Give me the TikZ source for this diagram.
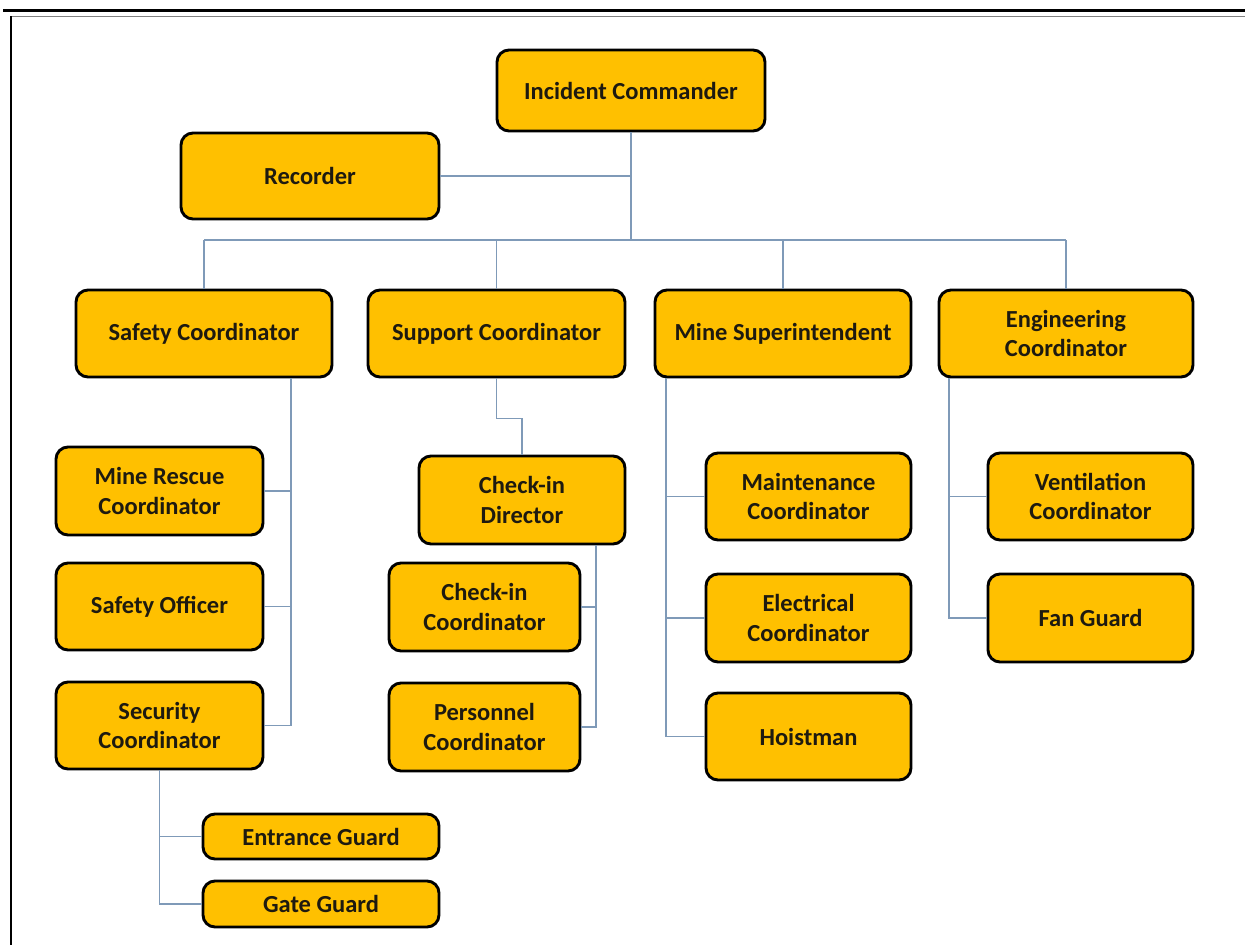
\documentclass[tikz,border=0pt]{standalone}
\usepackage{fontspec}
\setmainfont{Carlito}
\definecolor{orgfill}{HTML}{FFC000}
\definecolor{txtcol}{HTML}{1E1A10}
\definecolor{conncol}{HTML}{7F9AB8}
\begin{document}
\begin{tikzpicture}[x=1pt,y=-1pt,
  box/.style={draw=black, line width=2.9pt, fill=orgfill, rounded corners=12pt,
    font=\bfseries\fontsize{24.5}{29.5}\selectfont, text=txtcol, align=center, inner sep=0pt},
  conn/.style={draw=conncol, line width=1.4pt}]
\useasboundingbox (0,0) rectangle (1245,945);
% frame
\draw[line width=3pt] (3,10.8) -- (1245,10.8);
\draw[gray, line width=1.2pt] (10,16.5) -- (1245,16.5);
\draw[line width=1.6pt] (11,16) -- (11,945);
% helper coordinates
\coordinate (busL) at (205,240);
\coordinate (sx) at (291,0);
\coordinate (cx) at (596,0);
\coordinate (mx) at (666,0);
\coordinate (ex) at (949,0);
% nodes
\node[box, minimum width=268pt, minimum height=81pt] (ic) at (631,90.5) {Incident Commander};
\node[box, minimum width=258pt, minimum height=86pt] (rec) at (310,176) {Recorder};
\node[box, minimum width=256pt, minimum height=87pt] (saf) at (204,333.5) {Safety Coordinator};
\node[box, minimum width=257pt, minimum height=87pt] (sup) at (496.5,333.5) {Support Coordinator};
\node[box, minimum width=256pt, minimum height=87pt] (mine) at (783,333.5) {Mine Superintendent};
\node[box, minimum width=254pt, minimum height=87pt] (eng) at (1066,333.5) {Engineering\\Coordinator};
\node[box, minimum width=207pt, minimum height=88pt] (mrc) at (159.5,491) {Mine Rescue\\Coordinator};
\node[box, minimum width=207pt, minimum height=87pt] (so) at (159.5,606.5) {Safety Officer};
\node[box, minimum width=207pt, minimum height=87pt] (sec) at (159.5,725.5) {Security\\Coordinator};
\node[box, minimum width=236pt, minimum height=45pt] (ent) at (321,836.5) {Entrance Guard};
\node[box, minimum width=236pt, minimum height=46pt] (gate) at (321,904) {Gate Guard};
\node[box, minimum width=206pt, minimum height=88pt] (cid) at (522,500) {Check-in\\Director};
\node[box, minimum width=191pt, minimum height=88pt] (cic) at (484.5,607) {Check-in\\Coordinator};
\node[box, minimum width=191pt, minimum height=88pt] (pc) at (484.5,727) {Personnel\\Coordinator};
\node[box, minimum width=205pt, minimum height=87pt] (mc) at (808.5,496.5) {Maintenance\\Coordinator};
\node[box, minimum width=205pt, minimum height=88pt] (ec) at (808.5,618) {Electrical\\Coordinator};
\node[box, minimum width=205pt, minimum height=87pt] (hm) at (808.5,736.5) {Hoistman};
\node[box, minimum width=205pt, minimum height=87pt] (vc) at (1090.5,496.5) {Ventilation\\Coordinator};
\node[box, minimum width=205pt, minimum height=88pt] (fg) at (1090.5,618) {Fan Guard};
% connectors
\draw[conn] (ic.south) -- (ic.south |- busL);
\draw[conn] (saf.north |- busL) -- (eng.north |- busL);
\draw[conn] (rec.east) -- (rec.east -| ic.south);
\draw[conn] (saf.north) -- (saf.north |- busL);
\draw[conn] (sup.north) -- (sup.north |- busL);
\draw[conn] (mine.north) -- (mine.north |- busL);
\draw[conn] (eng.north) -- (eng.north |- busL);
% safety
\draw[conn] (saf.south -| sx) -- (sx |- sec.east) -- (sec.east);
\draw[conn] (mrc.east) -- (mrc.east -| sx);
\draw[conn] (so.east) -- (so.east -| sx);
% security
\draw[conn] (sec.south) -- (sec.south |- gate.west) -- (gate.west);
\draw[conn] (ent.west) -- (ent.west -| sec.south);
% support
\draw[conn] (sup.south) -- ++(0,40) -| (cid.north);
\draw[conn] (cid.south -| cx) -- (cx |- pc.east) -- (pc.east);
\draw[conn] (cic.east) -- (cic.east -| cx);
% mine
\draw[conn] (mine.south -| mx) -- (mx |- hm.west) -- (hm.west);
\draw[conn] (mc.west) -- (mc.west -| mx);
\draw[conn] (ec.west) -- (ec.west -| mx);
% engineering
\draw[conn] (eng.south -| ex) -- (ex |- fg.west) -- (fg.west);
\draw[conn] (vc.west) -- (vc.west -| ex);
\end{tikzpicture}
\end{document}
